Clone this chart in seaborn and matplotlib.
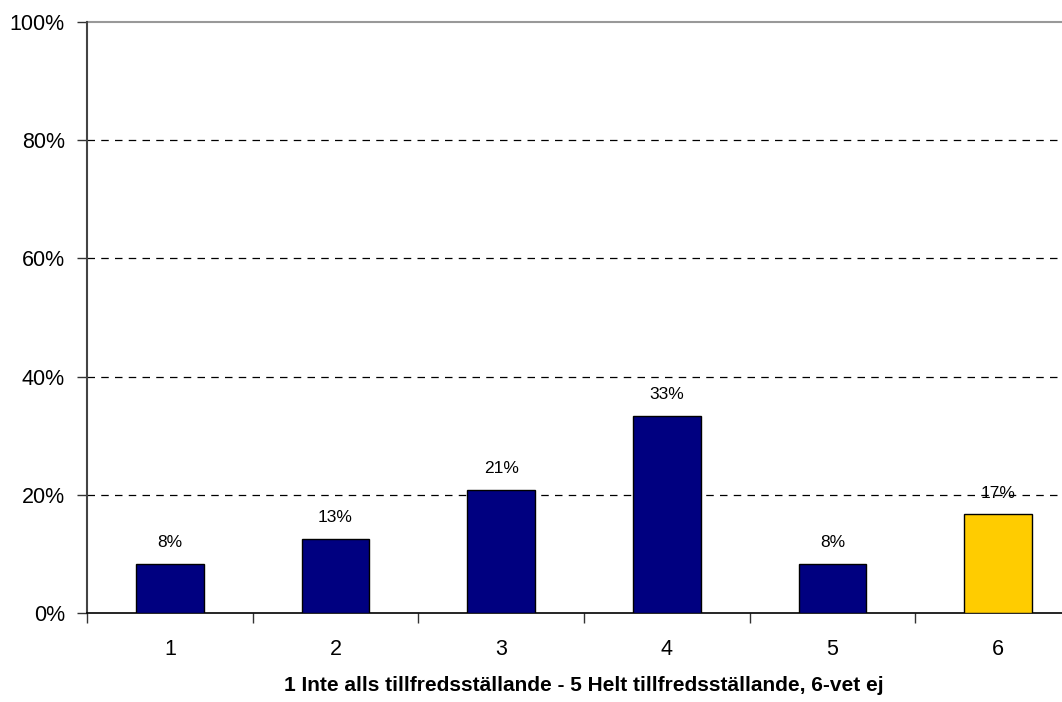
import numpy as np
import matplotlib
matplotlib.use("Agg")
import matplotlib.pyplot as plt
import seaborn as sns

categories = ["1", "2", "3", "4", "5", "6"]
shares = [8.33, 12.5, 20.83, 33.33, 8.33, 16.67]
bar_colors = ["#000080", "#000080", "#000080", "#000080", "#000080", "#FFCC00"]
y_ticks = [0, 20, 40, 60, 80, 100]
x_title = "1 Inte alls tillfredsställande - 5 Helt tillfredsställande, 6-vet ej"

sns.set_style("white")
plt.rcParams["font.family"] = ["Liberation Sans", "DejaVu Sans"]
plt.rcParams["text.color"] = "black"
plt.rcParams["xtick.color"] = "black"
plt.rcParams["ytick.color"] = "black"
plt.rcParams["axes.labelcolor"] = "black"

fig = plt.figure(figsize=(10.62, 7.02), dpi=100)
ax = fig.add_axes([0.0819, 0.1268, 0.936, 0.8419])

sns.barplot(x=categories, y=shares, hue=categories, palette=bar_colors,
            legend=False, width=0.41, edgecolor="black", linewidth=1.0,
            saturation=1.0, ax=ax, zorder=3)

ax.set_xlim(-0.5, len(categories) - 0.5)
ax.set_ylim(0, 100)

# dashed grid lines, solid grey line at the top
for t in y_ticks[1:-1]:
    ax.axhline(t, color="black", linestyle=(0, (6, 5)), linewidth=0.9, zorder=1)
ax.axhline(100, color="#999999", linewidth=1.5, zorder=1, clip_on=False)

ax.set_yticks(y_ticks)
ax.set_yticklabels([f"{t}%" for t in y_ticks], fontsize=15.5)
ax.tick_params(axis="y", which="major", direction="out", length=7, width=1,
               color="#333333", pad=9, left=True)

ax.set_xticks(np.arange(len(categories)))
ax.set_xticklabels(categories, fontsize=15.5)
ax.tick_params(axis="x", which="major", length=0, pad=19)
ax.set_xticks(np.arange(-0.5, len(categories), 1.0), minor=True)
ax.tick_params(axis="x", which="minor", direction="out", length=7, width=1,
               color="#333333", bottom=True)

for side in ["top", "right"]:
    ax.spines[side].set_visible(False)
ax.spines["left"].set_color("#444444")
ax.spines["left"].set_linewidth(1.5)
ax.spines["bottom"].set_color("black")
ax.spines["bottom"].set_linewidth(1.2)

for i, v in enumerate(shares):
    ax.annotate(f"{int(v + 0.5)}%", xy=(i, v), xytext=(0, 10), textcoords="offset points",
                ha="center", va="bottom", fontsize=12.5, zorder=5)

ax.set_xlabel(x_title, fontsize=15, fontweight="bold", labelpad=11)
ax.set_ylabel("")

fig.savefig("out.png", dpi=100)
